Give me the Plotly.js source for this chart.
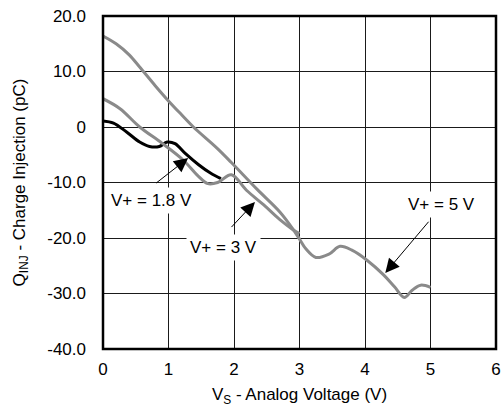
<!DOCTYPE html>
<html>
<head>
<meta charset="utf-8">
<script src="https://cdn.plot.ly/plotly-3.0.1.min.js"></script>
<style>
  html, body { margin: 0; padding: 0; background: #fff; }
  #chart { width: 501px; height: 412px; }
</style>
</head>
<body>
<div id="chart"></div>
<script>
// Charge injection vs. analog voltage for three supply levels
const vs18 = [0, 0.16, 0.36, 0.56, 0.71, 0.86, 0.98, 1.1, 1.26, 1.46, 1.64, 1.8];
const q18  = [1.1, 0.7, -0.9, -2.7, -3.5, -3.5, -2.7, -3.0, -4.8, -6.8, -8.3, -9.3];

const vs3 = [0, 0.26, 0.56, 0.9, 1.22, 1.45, 1.6, 1.75, 1.96, 2.19, 2.45, 2.7, 2.9, 3.0];
const q3  = [5.1, 3.3, 0.0, -2.9, -5.9, -8.8, -10.2, -10.0, -8.6, -11.4, -14.0, -16.7, -18.5, -19.2];

const vs5 = [0, 0.2, 0.4, 0.56, 0.8, 1.0, 1.2, 1.38, 1.74, 1.96, 2.35, 2.7, 2.9, 3.0, 3.1, 3.25, 3.45, 3.62, 3.8, 4.03, 4.28, 4.45, 4.6, 4.72, 4.85, 5.0];
const q5  = [16.4, 15.0, 13.0, 10.8, 7.4, 4.7, 2.2, 0.0, -3.8, -6.4, -11.2, -15.3, -18.4, -20.2, -22.0, -23.5, -22.9, -21.5, -22.2, -24.0, -26.6, -28.8, -30.7, -29.4, -28.5, -28.9];

const xTicks = [0, 1, 2, 3, 4, 5, 6];
const yTicks = [20, 10, 0, -10, -20, -30, -40];
const yTickText = ['20.0', '10.0', '0', '-10.0', '-20.0', '-30.0', '-40.0'];

// Curve labels and the points their arrows run between
const labels = [
  {text: 'V+ = 1.8 V', x: 0.74, y: -13.3, tailX: 0.79, tailY: -10.3, tipX: 1.30, tipY: -5.6},
  {text: 'V+ = 3 V',   x: 1.84, y: -21.7, tailX: 1.94, tailY: -18.3, tipX: 2.32, tipY: -13.5},
  {text: 'V+ = 5 V',   x: 5.17, y: -13.9, tailX: 4.99, tailY: -16.8, tipX: 4.31, tipY: -26.3}
];

const FONT = 'Liberation Sans, Arial, sans-serif';
const GRAY = '#8a8a8a';

const traces = [
  {x: vs18, y: q18, mode: 'lines', line: {color: '#000', width: 3, shape: 'spline'}, hoverinfo: 'skip'},
  {x: vs3,  y: q3,  mode: 'lines', line: {color: GRAY, width: 3, shape: 'spline'}, hoverinfo: 'skip'},
  {x: vs5,  y: q5,  mode: 'lines', line: {color: GRAY, width: 3, shape: 'spline'}, hoverinfo: 'skip'}
];

const textNotes = labels.map(l => ({
  x: l.x, y: l.y, xref: 'x', yref: 'y', text: l.text, showarrow: false,
  bgcolor: '#fff', borderpad: 3, font: {family: FONT, size: 17, color: '#000'}
}));
const arrowNotes = labels.map(l => ({
  x: l.tipX, y: l.tipY, ax: l.tailX, ay: l.tailY, xref: 'x', yref: 'y', axref: 'x', ayref: 'y',
  text: '', showarrow: true, arrowhead: 2, arrowsize: 2.8, arrowwidth: 1, arrowcolor: '#000', standoff: 0
}));

const layout = {
  width: 501, height: 412,
  margin: {l: 103, r: 5, t: 16, b: 63},
  paper_bgcolor: '#fff', plot_bgcolor: '#fff',
  showlegend: false,
  font: {family: FONT, size: 17, color: '#000'},
  xaxis: {
    range: [0, 6], tickvals: xTicks, ticktext: xTicks.map(String),
    showgrid: true, gridcolor: '#1a1a1a', gridwidth: 1, zeroline: false,
    ticks: '', ticklabelstandoff: 8, showline: false,
    title: {text: 'V<sub>S</sub> - Analog Voltage (V)', font: {family: FONT, size: 17}, standoff: 10}
  },
  yaxis: {
    range: [-40, 20], tickvals: yTicks, ticktext: yTickText,
    showgrid: true, gridcolor: '#1a1a1a', gridwidth: 1, zeroline: false,
    ticks: '', ticklabelstandoff: 16, showline: false,
    title: {text: 'Q<sub>INJ</sub> - Charge Injection (pC)', font: {family: FONT, size: 17}, standoff: 17}
  },
  shapes: [{
    type: 'rect', xref: 'paper', yref: 'paper', x0: 0, y0: 0, x1: 1, y1: 1,
    line: {color: '#000', width: 2.5}, layer: 'above'
  }],
  annotations: textNotes.concat(arrowNotes)
};

Plotly.newPlot('chart', traces, layout, {displayModeBar: false, staticPlot: true});
</script>
</body>
</html>
